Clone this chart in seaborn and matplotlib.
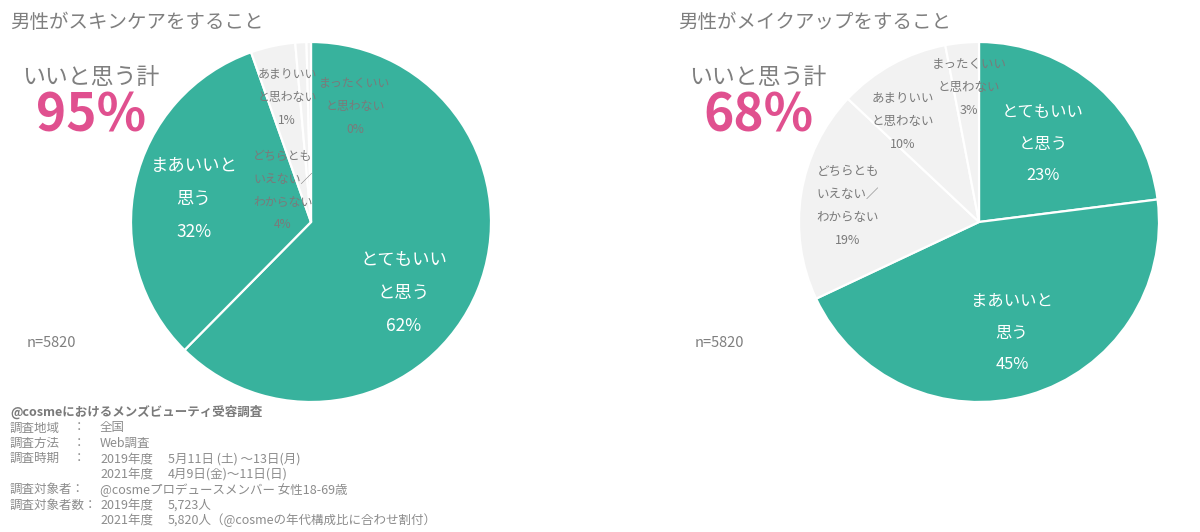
import matplotlib
matplotlib.use("Agg")
import matplotlib.pyplot as plt
import seaborn as sns

# ---------------- data ----------------
categories = ["とてもいいと思う", "まあいいと思う", "どちらともいえない／わからない",
              "あまりいいと思わない", "まったくいいと思わない"]
wedge_text = ["とてもいい\nと思う", "まあいいと\n思う", "どちらとも\nいえない／\nわからない",
              "あまりいい\nと思わない", "まったくいい\nと思わない"]
skincare_values = [62.4, 32.2, 4.0, 1.0, 0.4]
skincare_pct = ["62%", "32%", "4%", "1%", "0%"]
makeup_values = [23, 45, 19, 10, 3]
makeup_pct = ["23%", "45%", "19%", "10%", "3%"]
titles = ["男性がスキンケアをすること", "男性がメイクアップをすること"]
totals = ["95%", "68%"]
total_label = "いいと思う計"
n_label = "n=5820"

footer_head = "@cosmeにおけるメンズビューティ受容調査"
footer_rows = [
    ("調査地域", "：", "全国", ""),
    ("調査方法", "：", "Web調査", ""),
    ("調査時期", "：", "2019年度", "5月11日 (土) ～13日(月)"),
    ("", "", "2021年度", "4月9日(金)～11日(日)"),
    ("調査対象者：", "", "@cosmeプロデュースメンバー 女性18-69歳", ""),
    ("調査対象者数：", "", "2019年度", "5,723人"),
    ("", "", "2021年度", "5,820人（@cosmeの年代構成比に合わせ割付）"),
]

# ---------------- style ----------------
sns.set_theme(style="white")
plt.rcParams["font.family"] = ["Noto Sans CJK JP", "DejaVu Sans"]

TEAL = "#38B29D"
LIGHT = "#F2F2F2"
PINK = "#E0508F"
GRAY = "#7F7F7F"
colors = [TEAL, TEAL, LIGHT, LIGHT, LIGHT]
text_colors = ["white", "white", "#7A7A7A", "#7A7A7A", "#7A7A7A"]

W, H = 1200, 532
fig = plt.figure(figsize=(W / 100, H / 100), dpi=100)
fig.patch.set_facecolor("white")

def px(x, y):
    return x / W, 1 - y / H

# label layout (in pie radius units) per chart
layouts = [
    {"pos": [(0.517, -0.394), (-0.65, 0.128), (-0.156, 0.175), (-0.133, 0.694), (0.244, 0.644)],
     "size": [12.5, 12.5, 8.6, 8.6, 8.6]},
    {"pos": [(0.356, 0.433), (0.183, -0.617), (-0.728, 0.089), (-0.422, 0.561), (-0.056, 0.75)],
     "size": [11.8, 11.8, 9, 9, 9]},
]
centers = [(311, 222), (979, 222)]
R = 180
series = [(skincare_values, skincare_pct), (makeup_values, makeup_pct)]
title_x = [10, 678]
total_cx = [91, 758]
n_x = [27, 695]

for i, (vals, pcts) in enumerate(series):
    cx, cy = centers[i]
    ax = fig.add_axes([(cx - R) / W, (H - cy - R) / H, 2 * R / W, 2 * R / H])
    ax.pie(vals, colors=colors, startangle=90, counterclock=False,
           wedgeprops=dict(edgecolor="white", linewidth=1.6))
    ax.set_xlim(-1, 1)
    ax.set_ylim(-1, 1)
    ax.set_aspect("equal")
    ax.axis("off")
    lay = layouts[i]
    for j in range(len(vals)):
        x, y = lay["pos"][j]
        fs = lay["size"][j]
        ls = 2.1 if fs > 10 else 2.0
        ax.text(x, y, wedge_text[j] + "\n" + pcts[j], ha="center", va="center",
                fontsize=fs, color=text_colors[j], linespacing=ls)

    fig.text(*px(title_x[i], 22), titles[i], fontsize=14, color=GRAY, va="center", ha="left")
    fig.text(*px(total_cx[i], 77), total_label, fontsize=16.5, color=GRAY, va="center", ha="center")
    fig.text(*px(total_cx[i], 116), totals[i], fontsize=37, color=PINK, va="center",
             ha="center", fontweight="bold")
    fig.text(*px(n_x[i], 343), n_label, fontsize=10.5, color=GRAY, va="center", ha="left")

# footer
FG = "#8C8C8C"
fig.text(*px(10, 412), footer_head, fontsize=9, color="#7A7A7A", fontweight="bold",
         va="center", ha="left")
y = 428
for lab, colon, v1, v2 in footer_rows:
    if lab:
        fig.text(*px(10, y), lab, fontsize=9, color=FG, va="center", ha="left")
    if colon:
        fig.text(*px(73, y), colon, fontsize=9, color=FG, va="center", ha="left")
    if v1:
        fig.text(*px(100, y), v1, fontsize=9, color=FG, va="center", ha="left")
    if v2:
        fig.text(*px(168, y), v2, fontsize=9, color=FG, va="center", ha="left")
    y += 15.4

fig.savefig("out.png", dpi=100, facecolor="white")
